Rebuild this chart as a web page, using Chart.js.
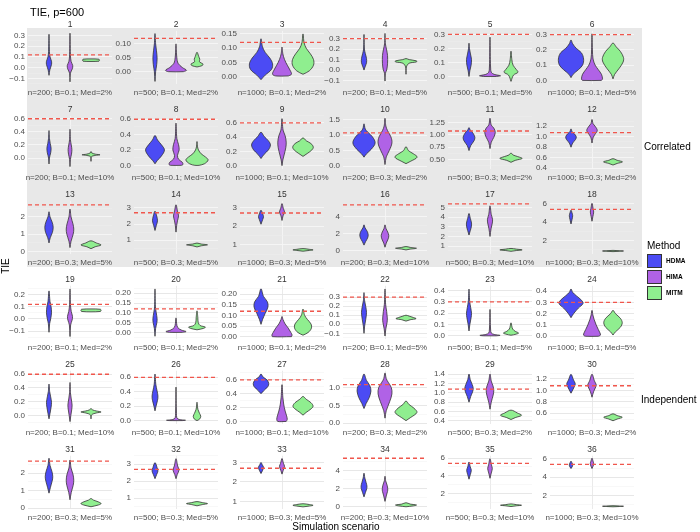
<!DOCTYPE html>
<html>
<head>
<meta charset="utf-8">
<script src="https://cdn.jsdelivr.net/npm/chart.js@4.4.1/dist/chart.umd.min.js"></script>
<style>
body { margin: 0; background: #fff; }
#wrap { position: relative; width: 700px; height: 532px; overflow: hidden; font-family: "Liberation Sans", Arial, sans-serif; }
#wrap canvas { position: absolute; }
.txt { position: absolute; white-space: nowrap; line-height: 1; }
.key { position: absolute; width: 15px; height: 14px; box-sizing: border-box; border: 1px solid #333; }
</style>
</head>
<body>
<div id="wrap"></div>
<script>
// --- DATA ---
const methods = ['HDMA', 'HIMA', 'MITM'];
const structures = ['Correlated', 'Independent'];
const sampleSizes = [200, 500, 1000];
const effectB = ['0.1', '0.3'];
const medPct = [2, 5, 10];

const trueTIE = [
  0.12, 0.12, 0.12, 0.3, 0.3, 0.3, 0.6, 0.6, 0.6, 1.08, 1.08, 1.08, 2.7, 2.7, 2.7, 5.4, 5.4, 5.4,
  0.12, 0.12, 0.12, 0.3, 0.3, 0.3, 0.6, 0.6, 0.6, 1.08, 1.08, 1.08, 2.7, 2.7, 2.7, 5.4, 5.4, 5.4
];

const yTickLabels = [
  ['−0.1', '0.0', '0.1', '0.2', '0.3'], ['0.00', '0.05', '0.10'], ['0.00', '0.05', '0.10', '0.15'],
  ['−0.1', '0.0', '0.1', '0.2', '0.3'], ['0.0', '0.1', '0.2', '0.3'], ['0.0', '0.1', '0.2', '0.3'],
  ['0.0', '0.2', '0.4', '0.6'], ['0.0', '0.2', '0.4', '0.6'], ['0.0', '0.2', '0.4', '0.6'],
  ['0.0', '0.5', '1.0', '1.5'], ['0.50', '0.75', '1.00', '1.25'], ['0.4', '0.6', '0.8', '1.0', '1.2'],
  ['0', '1', '2'], ['1', '2', '3'], ['1', '2', '3'],
  ['0', '2', '4'], ['1', '2', '3', '4', '5'], ['2', '4', '6'],
  ['−0.1', '0.0', '0.1', '0.2'], ['0.00', '0.05', '0.10', '0.15', '0.20'], ['0.00', '0.05', '0.10', '0.15', '0.20'],
  ['−0.1', '0.0', '0.1', '0.2', '0.3'], ['0.0', '0.1', '0.2', '0.3', '0.4'], ['0.0', '0.1', '0.2', '0.3', '0.4'],
  ['0.0', '0.2', '0.4', '0.6'], ['0.0', '0.2', '0.4', '0.6'], ['0.0', '0.2', '0.4', '0.6'],
  ['0.0', '0.5', '1.0'], ['0.4', '0.6', '0.8', '1.0', '1.2', '1.4'], ['0.6', '0.8', '1.0', '1.2'],
  ['0', '1', '2'], ['1', '2', '3'], ['1', '2', '3'],
  ['0', '2', '4'], ['2', '4', '6'], ['2', '4', '6']
];

const yLimits = [
  [-0.152, 0.342], [-0.045, 0.147], [-0.027, 0.161], [-0.135, 0.375], [-0.055, 0.325], [-0.025, 0.325],
  [-0.17, 0.645], [-0.05, 0.645], [-0.05, 0.7], [-0.1, 1.63], [0.3, 1.39], [0.38, 1.4],
  [-0.15, 2.93], [0.13, 3.44], [0.5, 3.35], [-0.4, 5.88], [0.15, 5.72], [0.5, 6.33],
  [-0.167, 0.272], [-0.035, 0.238], [-0.012, 0.24], [-0.165, 0.425], [-0.03, 0.443], [-0.026, 0.448],
  [-0.128, 0.65], [-0.05, 0.69], [-0.04, 0.73], [-0.03, 1.47], [0.33, 1.47], [0.41, 1.34],
  [-0.06, 3.0], [0.35, 3.5], [0.6, 3.34], [-0.27, 5.67], [0.2, 6.25], [0.54, 6.33]
];

// violin profiles: [TIE value, half width] from bottom to top
const hdmaViolins = [
  [[-0.07,0],[-0.02,0.04],[0.03,0.12],[0.06,0.12],[0.1,0.05],[0.15,0.02],[0.31,0]],
  [[-0.035,0],[0.0,0.03],[0.025,0.08],[0.05,0.1],[0.075,0.07],[0.1,0.03],[0.137,0]],
  [[-0.011,0],[0.005,0.2],[0.025,0.5],[0.045,0.55],[0.065,0.42],[0.085,0.2],[0.105,0.07],[0.133,0]],
  [[0.0,0],[0.03,0.05],[0.07,0.12],[0.11,0.12],[0.16,0.06],[0.2,0.02],[0.34,0]],
  [[0,0],[0.04,0.04],[0.08,0.1],[0.12,0.12],[0.16,0.07],[0.2,0.02],[0.237,0]],
  [[0.018,0],[0.04,0.1],[0.07,0.35],[0.1,0.55],[0.14,0.6],[0.18,0.5],[0.21,0.25],[0.24,0.08],[0.265,0]],
  [[-0.09,0],[0.0,0.02],[0.08,0.08],[0.15,0.1],[0.22,0.06],[0.3,0.02],[0.42,0]],
  [[0.02,0],[0.06,0.1],[0.12,0.3],[0.2,0.45],[0.27,0.3],[0.33,0.12],[0.39,0]],
  [[0.1,0],[0.16,0.15],[0.22,0.35],[0.29,0.45],[0.35,0.35],[0.41,0.15],[0.47,0]],
  [[0.29,0],[0.4,0.12],[0.55,0.35],[0.75,0.53],[0.95,0.4],[1.1,0.18],[1.2,0.06],[1.37,0]],
  [[0.68,0],[0.78,0.08],[0.88,0.24],[0.95,0.28],[1.03,0.2],[1.1,0.06],[1.15,0]],
  [[0.8,0],[0.88,0.08],[0.95,0.22],[1.0,0.25],[1.06,0.15],[1.1,0.05],[1.15,0]],
  [[0.5,0],[0.8,0.06],[1.1,0.16],[1.4,0.2],[1.7,0.15],[2.0,0.05],[2.3,0]],
  [[1.6,0],[1.9,0.06],[2.2,0.12],[2.5,0.08],[2.8,0]],
  [[2.1,0],[2.35,0.08],[2.5,0.12],[2.65,0.08],[2.85,0]],
  [[0.67,0],[1.1,0.08],[1.5,0.17],[1.9,0.2],[2.3,0.15],[2.7,0.05],[3.05,0]],
  [[2.15,0],[2.6,0.06],[3.0,0.11],[3.4,0.12],[3.9,0.06],[4.4,0]],
  [[3.8,0],[4.3,0.05],[4.7,0.08],[5.0,0.05],[5.3,0]],
  [[-0.11,0],[-0.04,0.03],[0.0,0.08],[0.05,0.12],[0.1,0.1],[0.14,0.05],[0.23,0]],
  [[-0.02,0],[0.02,0.03],[0.05,0.09],[0.07,0.1],[0.1,0.06],[0.13,0.02],[0.222,0]],
  [[0.058,0],[0.08,0.07],[0.11,0.2],[0.14,0.33],[0.165,0.3],[0.19,0.12],[0.226,0]],
  [[-0.1,0],[-0.02,0.03],[0.05,0.08],[0.13,0.12],[0.2,0.08],[0.26,0.03],[0.35,0]],
  [[0.043,0],[0.1,0.04],[0.16,0.1],[0.2,0.12],[0.25,0.08],[0.31,0.03],[0.414,0]],
  [[0.165,0],[0.2,0.12],[0.25,0.35],[0.29,0.57],[0.32,0.5],[0.36,0.25],[0.39,0.08],[0.42,0]],
  [[-0.05,0],[0.03,0.05],[0.12,0.1],[0.19,0.12],[0.27,0.08],[0.35,0.03],[0.457,0]],
  [[0.135,0],[0.2,0.05],[0.28,0.12],[0.34,0.14],[0.41,0.1],[0.5,0.04],[0.645,0]],
  [[0.4,0],[0.44,0.12],[0.5,0.32],[0.545,0.37],[0.6,0.28],[0.64,0.1],[0.683,0]],
  [[0.41,0],[0.55,0.1],[0.72,0.25],[0.9,0.33],[1.05,0.28],[1.2,0.12],[1.38,0]],
  [[0.8,0],[0.92,0.08],[1.02,0.17],[1.1,0.2],[1.18,0.15],[1.28,0.06],[1.4,0]],
  [[0.95,0],[1.02,0.1],[1.08,0.18],[1.12,0.2],[1.18,0.12],[1.28,0]],
  [[0.86,0],[1.2,0.07],[1.55,0.15],[1.8,0.18],[2.1,0.14],[2.45,0.05],[2.86,0]],
  [[2.15,0],[2.4,0.08],[2.6,0.14],[2.8,0.1],[3.1,0]],
  [[2.43,0],[2.6,0.08],[2.75,0.12],[2.88,0.06],[3.0,0]],
  [[1.1,0],[1.6,0.07],[2.0,0.13],[2.3,0.14],[2.7,0.1],[3.2,0.04],[3.74,0]],
  [[3.6,0],[4.1,0.06],[4.6,0.11],[5.0,0.06],[5.55,0]],
  [[4.95,0],[5.15,0.06],[5.35,0.08],[5.55,0.05],[5.75,0]]
];

const himaViolins = [
  [[-0.13,0],[-0.05,0.02],[-0.01,0.11],[0.02,0.13],[0.06,0.05],[0.12,0.02],[0.32,0]],
  [[0.0,0.35],[0.005,0.5],[0.015,0.3],[0.03,0.1],[0.05,0.04],[0.07,0.02],[0.1,0]],
  [[0.002,0.3],[0.008,0.45],[0.02,0.4],[0.04,0.25],[0.06,0.12],[0.08,0.04],[0.104,0]],
  [[-0.105,0],[-0.03,0.02],[0.0,0.08],[0.06,0.12],[0.14,0.12],[0.2,0.07],[0.25,0.02],[0.35,0]],
  [[0.0,0.3],[0.005,0.5],[0.015,0.2],[0.03,0.06],[0.06,0.03],[0.12,0.015],[0.28,0]],
  [[0.0,0.45],[0.01,0.5],[0.04,0.45],[0.07,0.3],[0.1,0.15],[0.14,0.05],[0.2,0.02],[0.305,0]],
  [[-0.13,0],[-0.02,0.02],[0.06,0.07],[0.13,0.09],[0.2,0.06],[0.28,0.02],[0.44,0]],
  [[0.0,0.25],[0.01,0.33],[0.04,0.3],[0.08,0.12],[0.13,0.07],[0.2,0.15],[0.27,0.12],[0.35,0.04],[0.55,0]],
  [[0.0,0],[0.08,0.04],[0.15,0.1],[0.25,0.18],[0.33,0.2],[0.42,0.15],[0.5,0.05],[0.66,0]],
  [[0.05,0],[0.3,0.06],[0.5,0.2],[0.75,0.33],[0.95,0.28],[1.15,0.12],[1.3,0.04],[1.55,0]],
  [[0.72,0],[0.85,0.06],[0.95,0.18],[1.05,0.25],[1.14,0.18],[1.2,0.06],[1.34,0]],
  [[0.88,0],[0.98,0.05],[1.05,0.15],[1.12,0.25],[1.2,0.15],[1.25,0.05],[1.33,0]],
  [[0.23,0],[0.6,0.05],[1.0,0.15],[1.3,0.18],[1.6,0.14],[2.0,0.05],[2.45,0]],
  [[1.5,0],[1.9,0.03],[2.2,0.07],[2.5,0.12],[2.8,0.07],[3.2,0]],
  [[2.3,0],[2.55,0.05],[2.75,0.12],[2.95,0.06],[3.2,0]],
  [[0.42,0],[0.9,0.06],[1.4,0.15],[1.8,0.18],[2.2,0.13],[2.6,0.05],[3.05,0]],
  [[2.0,0],[2.8,0.05],[3.4,0.11],[3.8,0.12],[4.3,0.06],[5.2,0]],
  [[4.1,0],[4.6,0.04],[5.1,0.08],[5.5,0.05],[6.05,0]],
  [[-0.145,0],[-0.05,0.03],[-0.01,0.1],[0.02,0.12],[0.06,0.06],[0.12,0.02],[0.246,0]],
  [[0.0,0.3],[0.004,0.48],[0.012,0.25],[0.025,0.08],[0.045,0.03],[0.074,0]],
  [[0.0,0.45],[0.008,0.48],[0.02,0.42],[0.04,0.3],[0.06,0.15],[0.08,0.05],[0.095,0]],
  [[-0.13,0],[-0.05,0.04],[0.02,0.1],[0.07,0.11],[0.14,0.08],[0.22,0.03],[0.39,0]],
  [[0.0,0.3],[0.004,0.48],[0.012,0.2],[0.025,0.06],[0.05,0.03],[0.1,0.015],[0.234,0]],
  [[0.0,0.3],[0.01,0.4],[0.03,0.38],[0.06,0.3],[0.1,0.2],[0.15,0.1],[0.19,0.04],[0.23,0]],
  [[-0.09,0],[0.0,0.04],[0.08,0.08],[0.15,0.1],[0.24,0.06],[0.33,0.02],[0.48,0]],
  [[0.0,0.3],[0.005,0.45],[0.015,0.15],[0.04,0.04],[0.1,0.02],[0.2,0.01],[0.465,0]],
  [[0.0,0.2],[0.03,0.25],[0.08,0.22],[0.15,0.15],[0.25,0.08],[0.35,0.04],[0.53,0]],
  [[0.14,0],[0.35,0.06],[0.6,0.22],[0.82,0.33],[1.0,0.3],[1.15,0.15],[1.25,0.06],[1.41,0]],
  [[0.65,0],[0.8,0.06],[0.95,0.15],[1.05,0.18],[1.15,0.14],[1.25,0.06],[1.4,0]],
  [[0.88,0],[0.98,0.08],[1.06,0.18],[1.1,0.2],[1.16,0.12],[1.28,0]],
  [[0.48,0],[0.9,0.06],[1.3,0.15],[1.6,0.18],[1.95,0.14],[2.3,0.05],[2.76,0]],
  [[2.15,0],[2.4,0.06],[2.65,0.14],[2.9,0.08],[3.33,0]],
  [[2.4,0],[2.6,0.06],[2.8,0.12],[2.95,0.07],[3.2,0]],
  [[0.6,0],[1.2,0.06],[1.7,0.12],[2.0,0.13],[2.4,0.1],[2.9,0.03],[3.4,0]],
  [[3.7,0],[4.3,0.06],[4.8,0.11],[5.2,0.07],[5.92,0]],
  [[4.95,0],[5.2,0.05],[5.5,0.08],[5.75,0.05],[6.07,0]]
];

const mitmViolins = [
  [[0.058,0],[0.061,0.38],[0.07,0.4],[0.079,0.38],[0.082,0]],
  [[0.017,0],[0.022,0.25],[0.028,0.28],[0.035,0.12],[0.045,0.13],[0.055,0.08],[0.07,0]],
  [[0.008,0],[0.02,0.3],[0.04,0.5],[0.06,0.5],[0.08,0.35],[0.1,0.15],[0.12,0.05],[0.15,0]],
  [[-0.04,0],[0.03,0.02],[0.065,0.15],[0.078,0.5],[0.088,0.5],[0.1,0.15],[0.11,0]],
  [[-0.035,0],[0.01,0.12],[0.03,0.33],[0.05,0.25],[0.08,0.1],[0.12,0.04],[0.18,0]],
  [[0.01,0],[0.04,0.08],[0.08,0.3],[0.12,0.48],[0.15,0.5],[0.19,0.35],[0.22,0.15],[0.245,0]],
  [[-0.05,0],[0.02,0.02],[0.04,0.2],[0.05,0.43],[0.06,0.2],[0.08,0.03],[0.1,0]],
  [[0.0,0.1],[0.02,0.35],[0.07,0.53],[0.11,0.4],[0.15,0.2],[0.2,0.07],[0.25,0.02],[0.31,0]],
  [[0.13,0],[0.17,0.2],[0.22,0.42],[0.26,0.49],[0.31,0.38],[0.35,0.15],[0.39,0]],
  [[0.08,0],[0.15,0.2],[0.29,0.53],[0.4,0.35],[0.5,0.12],[0.63,0]],
  [[0.44,0],[0.48,0.2],[0.52,0.53],[0.56,0.3],[0.59,0.1],[0.63,0]],
  [[0.46,0],[0.49,0.2],[0.52,0.45],[0.55,0.2],[0.58,0]],
  [[0.17,0],[0.28,0.2],[0.38,0.48],[0.5,0.25],[0.62,0]],
  [[0.58,0],[0.65,0.2],[0.71,0.5],[0.76,0.2],[0.82,0]],
  [[0.66,0],[0.7,0.3],[0.73,0.48],[0.76,0.3],[0.8,0]],
  [[0.1,0],[0.2,0.2],[0.3,0.5],[0.4,0.2],[0.5,0]],
  [[0.45,0],[0.53,0.25],[0.6,0.53],[0.68,0.25],[0.75,0]],
  [[0.78,0],[0.82,0.3],[0.85,0.5],[0.88,0.3],[0.92,0]],
  [[0.058,0],[0.061,0.45],[0.07,0.48],[0.079,0.45],[0.082,0]],
  [[0.013,0],[0.02,0.3],[0.027,0.4],[0.035,0.15],[0.05,0.06],[0.075,0.04],[0.11,0]],
  [[0.007,0],[0.02,0.25],[0.04,0.4],[0.06,0.38],[0.08,0.22],[0.1,0.08],[0.13,0]],
  [[0.035,0],[0.05,0.2],[0.062,0.48],[0.075,0.35],[0.09,0.15],[0.1,0]],
  [[0.005,0],[0.015,0.25],[0.025,0.36],[0.04,0.2],[0.06,0.08],[0.085,0.04],[0.115,0]],
  [[0.011,0],[0.04,0.12],[0.08,0.35],[0.12,0.44],[0.16,0.35],[0.2,0.12],[0.23,0]],
  [[-0.05,0],[0.01,0.04],[0.035,0.25],[0.05,0.48],[0.065,0.25],[0.08,0.08],[0.1,0]],
  [[0.0,0],[0.02,0.12],[0.06,0.18],[0.1,0.12],[0.15,0.05],[0.2,0.02],[0.255,0]],
  [[0.09,0],[0.13,0.15],[0.18,0.38],[0.22,0.48],[0.27,0.38],[0.32,0.15],[0.36,0]],
  [[0.07,0],[0.15,0.2],[0.3,0.52],[0.42,0.38],[0.52,0.15],[0.62,0]],
  [[0.43,0],[0.47,0.2],[0.52,0.5],[0.57,0.3],[0.63,0]],
  [[0.47,0],[0.5,0.2],[0.53,0.44],[0.56,0.2],[0.59,0]],
  [[0.08,0],[0.18,0.35],[0.26,0.48],[0.36,0.35],[0.46,0.12],[0.55,0]],
  [[0.55,0],[0.62,0.25],[0.68,0.5],[0.74,0.25],[0.8,0]],
  [[0.72,0],[0.76,0.3],[0.8,0.48],[0.84,0.3],[0.88,0]],
  [[0.0,0],[0.1,0.35],[0.2,0.5],[0.3,0.2],[0.45,0]],
  [[0.5,0],[0.58,0.25],[0.65,0.5],[0.72,0.25],[0.8,0]],
  [[0.8,0],[0.83,0.3],[0.86,0.5],[0.89,0.3],[0.92,0]]
];

// --- STYLE / LAYOUT ---
const methodColors = ['#4B4BF4', '#B062E6', '#8FEE8F'];
const FONT = '"Liberation Sans", Arial, sans-serif';
const colLeft = [28, 134, 240, 343, 448, 550];
const PANEL_W = 84, PANEL_H = 57, AXIS_W = 26, PAD = 6;
const ROW_TOP = 24, ROW_STEP = 85;

const wrap = document.getElementById('wrap');

function addText(txt, x, y, size, color, extra) {
  const d = document.createElement('div');
  d.className = 'txt';
  d.textContent = txt;
  d.style.left = x + 'px';
  d.style.top = y + 'px';
  d.style.fontSize = size + 'px';
  d.style.color = color;
  d.style.transform = 'translate(-50%,-50%)';
  if (extra) Object.assign(d.style, extra);
  wrap.appendChild(d);
  return d;
}

function toNum(lbl) { return parseFloat(lbl.replace('−', '-')); }

function outline(knots, cx) {
  const right = knots.map(([y, w]) => ({ x: cx + w, y }));
  const rev = knots.slice().reverse();
  const left = rev.filter((k, j) => !(j === 0 && k[1] === 0)).map(([y, w]) => ({ x: cx - w, y }));
  const pts = right.concat(left);
  if (knots[0][1] > 0) pts.push(right[0]);
  return pts;
}

// gray block behind the correlated panels
const block = document.createElement('div');
Object.assign(block.style, { position: 'absolute', left: '27px', top: '28px', width: '615px', height: '239px', background: '#E8E8E8' });
wrap.appendChild(block);

function makePanel(i) {
  const r = Math.floor(i / 6), c = i % 6;
  const top = ROW_TOP + ROW_STEP * r;
  const plotTop = top + 5;
  const left = colLeft[c];
  const gray = i < 18;
  const gridMajor = gray ? '#F6F6F6' : '#E4E4E4';
  const gridMinor = gray ? '#EFEFEF' : '#F0F0F0';

  const cv = document.createElement('canvas');
  cv.width = AXIS_W + PANEL_W + 2;
  cv.height = PANEL_H + 2 * PAD;
  cv.style.left = (left - AXIS_W) + 'px';
  cv.style.top = (plotTop - PAD) + 'px';
  wrap.appendChild(cv);

  const labels = yTickLabels[i];
  const majors = labels.map(toNum);
  const labelMap = new Map(majors.map((v, k) => [v, labels[k]]));
  const step = majors[1] - majors[0];
  const [ymin, ymax] = yLimits[i];
  const tickVals = [];
  for (let k = -1; k < majors.length; k++) {
    const base = k < 0 ? majors[0] - step : majors[k];
    if (k >= 0) tickVals.push(base);
    const mid = base + step / 2;
    if (mid >= ymin && mid <= ymax) tickVals.push(mid);
  }
  const majorSet = new Set(majors);

  const t = trueTIE[i];
  const datasets = [{
    data: [{ x: 0, y: t }, { x: 4, y: t }],
    borderColor: '#F0564C', borderWidth: 1.3, borderDash: [4, 3],
    pointRadius: 0, fill: false, tension: 0
  }];
  const shapes = [hdmaViolins[i], himaViolins[i], mitmViolins[i]];
  shapes.forEach((knots, m) => {
    datasets.push({
      label: methods[m],
      data: outline(knots, m + 1),
      borderColor: '#333333', borderWidth: 0.8,
      backgroundColor: methodColors[m],
      fill: 'shape', tension: 0.35, pointRadius: 0
    });
  });

  new Chart(cv, {
    type: 'line',
    data: { datasets },
    options: {
      responsive: false, animation: false, events: [],
      layout: { padding: { top: PAD, bottom: PAD, left: 0, right: 2 } },
      plugins: { legend: { display: false }, tooltip: { enabled: false }, title: { display: false } },
      scales: {
        x: {
          type: 'linear', min: 0, max: 4,
          ticks: { display: false },
          border: { display: false },
          grid: { color: gridMajor, lineWidth: 0.8, drawTicks: false },
          afterBuildTicks: s => { s.ticks = [{ value: 2 }]; },
          afterFit: s => { s.height = 0; }
        },
        y: {
          type: 'linear', min: ymin, max: ymax,
          border: { display: false },
          grid: {
            drawTicks: false,
            color: ctx => (ctx.tick && majorSet.has(ctx.tick.value)) ? gridMajor : gridMinor,
            lineWidth: ctx => (ctx.tick && majorSet.has(ctx.tick.value)) ? 0.9 : 0.5
          },
          ticks: {
            autoSkip: false, padding: 3, color: '#4D4D4D',
            font: { family: FONT, size: 8 },
            callback: v => labelMap.has(v) ? labelMap.get(v) : ''
          },
          afterBuildTicks: s => { s.ticks = tickVals.map(v => ({ value: v })); },
          afterFit: s => { s.width = AXIS_W; }
        }
      }
    }
  });

  // strip number and scenario caption
  const cx = left + PANEL_W / 2;
  addText(String(i + 1), cx, top, 8.5, '#333');
  const within = i % 18;
  const caption = 'n=' + sampleSizes[within % 3] + '; B=' + effectB[Math.floor(within / 9)] +
    '; Med=' + medPct[Math.floor((within % 9) / 3)] + '%';
  addText(caption, cx, top + 68.5, 8, '#4D4D4D');
}

for (let i = 0; i < 36; i++) makePanel(i);

// titles, facet labels, legend
addText('TIE, p=600', 30, 12, 11, '#000', { transform: 'translate(0,-50%)' });
addText('TIE', 6, 266, 10, '#000', { transform: 'translate(-50%,-50%) rotate(-90deg)' });
addText('Simulation scenario', 336, 527, 10, '#000');
addText(structures[0], 644, 147, 10, '#000', { transform: 'translate(0,-50%)' });
addText(structures[1], 641, 400, 10, '#000', { transform: 'translate(0,-50%)' });
addText('Method', 647, 246, 10, '#000', { transform: 'translate(0,-50%)' });
methods.forEach((m, k) => {
  const key = document.createElement('div');
  key.className = 'key';
  key.style.left = '647px';
  key.style.top = (254 + 16 * k) + 'px';
  key.style.background = methodColors[k];
  wrap.appendChild(key);
  addText(m, 666, 261 + 16 * k, 6.5, '#000', { transform: 'translate(0,-50%)', fontWeight: 'bold' });
});
</script>
</body>
</html>
